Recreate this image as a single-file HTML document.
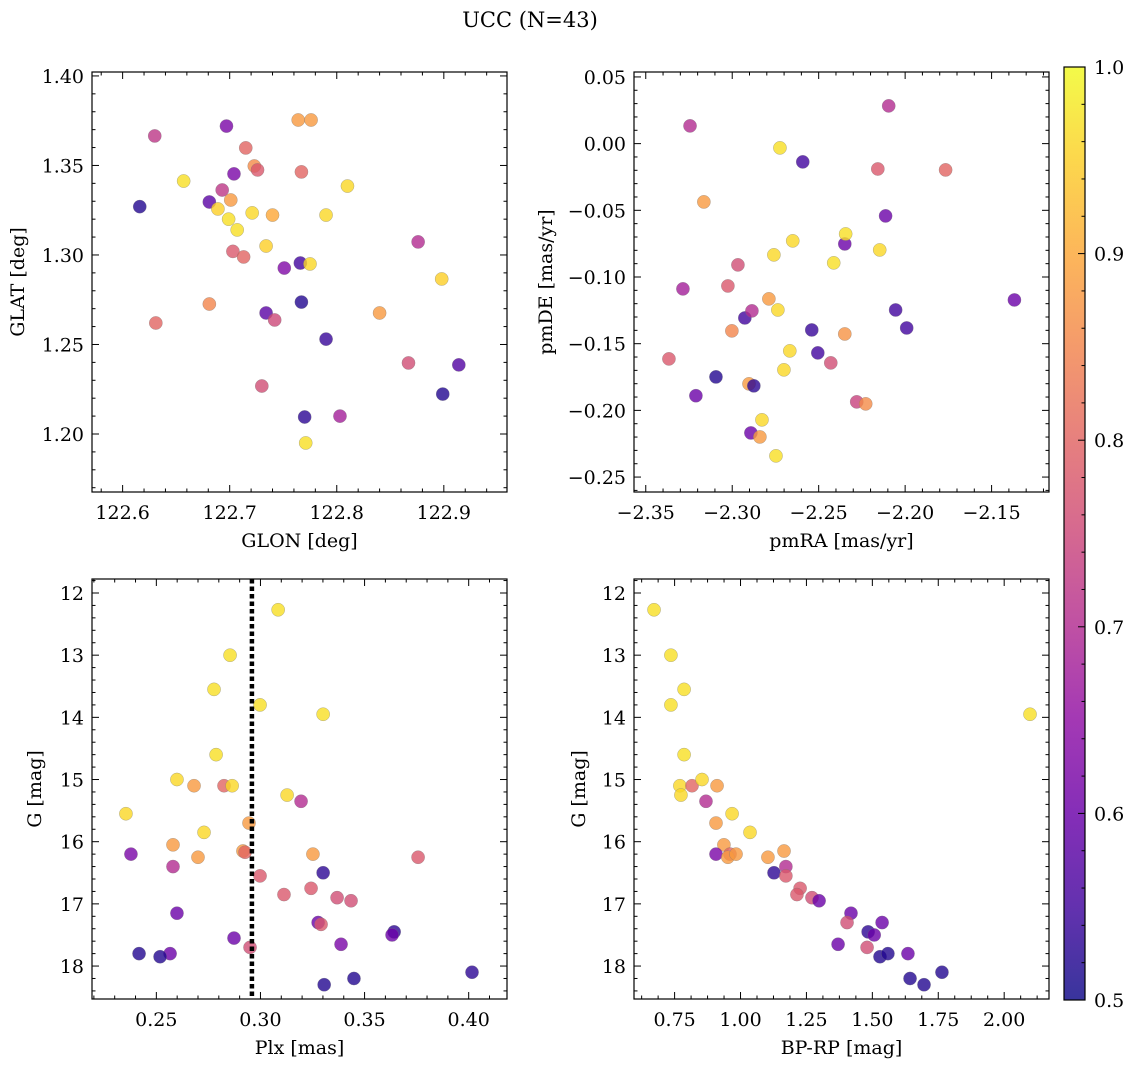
<!DOCTYPE html>
<html><head><meta charset="utf-8"><style>
html,body{margin:0;padding:0;background:#fff;}
svg{display:block;font-family:"DejaVu Serif","Liberation Serif",serif;}
</style></head><body>
<svg id="fig" width="1136" height="1067" xmlns="http://www.w3.org/2000/svg">
<defs>
<linearGradient id="cbg" x1="0" y1="1" x2="0" y2="0">
<stop offset="0" stop-color="#0d0887"/><stop offset="0.1" stop-color="#41049d"/><stop offset="0.2" stop-color="#6a00a8"/><stop offset="0.3" stop-color="#8f0da4"/><stop offset="0.4" stop-color="#b12a90"/><stop offset="0.5" stop-color="#cc4778"/><stop offset="0.6" stop-color="#e16462"/><stop offset="0.7" stop-color="#f2844b"/><stop offset="0.8" stop-color="#fca636"/><stop offset="0.9" stop-color="#fcce25"/><stop offset="1" stop-color="#f0f921"/>
</linearGradient>
</defs>
<text x="530" y="27" font-size="21" text-anchor="middle">UCC (N=43)</text>
</svg>
<script>
// ---- Panel 1: GLON vs GLAT ----
const glon1 = [122.616,122.630,122.631,122.657,122.681,122.689,122.693,122.697,122.699,122.701,122.703,122.704,122.707,122.681,122.713,122.715,122.721,122.734,122.734,122.740,122.742,122.723,122.726,122.730,122.751,122.764,122.776,122.766,122.767,122.767,122.770,122.771,122.775,122.790,122.790,122.803,122.810,122.840,122.867,122.876,122.898,122.899,122.914];
const glat1 = [1.327,1.3665,1.262,1.3413,1.3296,1.3257,1.3363,1.372,1.320,1.3307,1.302,1.3453,1.314,1.2726,1.2989,1.3598,1.3235,1.305,1.2676,1.3223,1.2637,1.3497,1.3475,1.2268,1.2927,1.3754,1.3754,1.2955,1.3464,1.2737,1.2095,1.195,1.295,1.3223,1.253,1.210,1.3385,1.2676,1.2397,1.3073,1.2866,1.2223,1.2386];
const prob1 = [0.52,0.72,0.8,0.97,0.58,0.95,0.72,0.62,0.97,0.88,0.78,0.62,0.97,0.85,0.8,0.8,0.96,0.95,0.58,0.9,0.75,0.86,0.78,0.76,0.63,0.88,0.88,0.55,0.8,0.52,0.53,0.97,0.96,0.96,0.54,0.68,0.96,0.88,0.76,0.7,0.95,0.52,0.57];
// ---- Panel 2: pmRA vs pmDE ----
const pmra2 = [-2.3366,-2.3285,-2.3244,-2.321,-2.3164,-2.3094,-2.3025,-2.3002,-2.2967,-2.2927,-2.2903,-2.2892,-2.2875,-2.2886,-2.284,-2.2828,-2.2788,-2.2759,-2.2736,-2.2747,-2.2724,-2.2701,-2.2667,-2.265,-2.2592,-2.254,-2.2505,-2.243,-2.2413,-2.2349,-2.2344,-2.2349,-2.228,-2.2228,-2.2158,-2.2147,-2.2113,-2.2095,-2.2055,-2.1991,-2.1766,-2.1368];
const pmde2 = [-0.1614,-0.1089,0.0133,-0.189,-0.0437,-0.1749,-0.1067,-0.1404,-0.0909,-0.1307,-0.1801,-0.2169,-0.1816,-0.1254,-0.2199,-0.2071,-0.1164,-0.0834,-0.1247,-0.2341,-0.0032,-0.1696,-0.1554,-0.0729,-0.0137,-0.1397,-0.1569,-0.1644,-0.0894,-0.0752,-0.0677,-0.1427,-0.1936,-0.1951,-0.019,-0.0797,-0.0542,0.0283,-0.1247,-0.1382,-0.0197,-0.1172];
const prob2 = [0.78,0.68,0.7,0.6,0.88,0.52,0.78,0.85,0.76,0.55,0.88,0.6,0.53,0.7,0.88,0.96,0.88,0.96,0.96,0.97,0.97,0.96,0.96,0.96,0.55,0.54,0.55,0.76,0.97,0.6,0.97,0.87,0.74,0.86,0.78,0.96,0.6,0.7,0.55,0.55,0.8,0.6];
// ---- Panel 3: Plx vs G ----
const plx3 = [0.3085,0.2854,0.2777,0.2998,0.3301,0.2787,0.2599,0.2681,0.2825,0.2864,0.3128,0.3195,0.2354,0.2945,0.258,0.2729,0.2378,0.2916,0.2926,0.27,0.3252,0.3757,0.258,0.2998,0.3301,0.3113,0.3243,0.2599,0.3368,0.3435,0.3277,0.3291,0.3642,0.3632,0.2873,0.3387,0.295,0.2417,0.2566,0.2518,0.3449,0.3306,0.4016];
const gmag3 = [12.27,13.0,13.55,13.8,13.95,14.6,15.0,15.1,15.1,15.1,15.25,15.35,15.55,15.7,16.05,15.85,16.2,16.15,16.17,16.25,16.2,16.25,16.4,16.55,16.5,16.85,16.75,17.15,16.9,16.95,17.3,17.33,17.45,17.5,17.55,17.65,17.7,17.8,17.8,17.85,18.2,18.3,18.1];
const prob3 = [0.97,0.97,0.97,0.97,0.97,0.97,0.96,0.88,0.8,0.96,0.96,0.7,0.96,0.88,0.88,0.96,0.62,0.88,0.8,0.88,0.88,0.78,0.7,0.78,0.53,0.78,0.78,0.6,0.76,0.76,0.6,0.78,0.53,0.6,0.6,0.62,0.76,0.52,0.6,0.52,0.52,0.52,0.53];
const plxLine = [0.2959];
// ---- Panel 4: BP-RP vs G ----
const bprp4 = [0.672,0.736,0.736,0.786,0.786,0.77,0.774,0.816,0.854,0.869,0.911,0.907,0.968,0.937,0.907,0.96,0.952,0.983,1.036,1.165,1.104,1.172,1.127,1.172,1.226,1.214,1.271,1.298,1.419,1.404,1.537,1.484,1.507,1.370,1.48,1.529,1.559,1.635,1.643,1.764,1.696,2.098];
const gmag4 = [12.27,13.0,13.8,13.55,14.6,15.1,15.25,15.1,15.0,15.35,15.1,15.7,15.55,16.05,16.2,16.2,16.25,16.2,15.85,16.15,16.25,16.4,16.5,16.55,16.75,16.85,16.9,16.95,17.15,17.3,17.3,17.45,17.5,17.65,17.7,17.85,17.8,17.8,18.2,18.1,18.3,13.95];
const prob4 = [0.97,0.97,0.97,0.97,0.97,0.96,0.96,0.8,0.96,0.7,0.88,0.88,0.96,0.88,0.62,0.8,0.88,0.88,0.96,0.88,0.88,0.7,0.53,0.78,0.78,0.78,0.76,0.6,0.6,0.76,0.6,0.53,0.6,0.6,0.76,0.52,0.52,0.6,0.52,0.52,0.52,0.97];
// tick labels
const ticks1x = [122.6,122.7,122.8,122.9], ticks1y = [1.20,1.25,1.30,1.35,1.40];
const ticks2x = [-2.35,-2.30,-2.25,-2.20,-2.15], ticks2y = [-0.25,-0.20,-0.15,-0.10,-0.05,0.00,0.05];
const ticks3x = [0.25,0.30,0.35,0.40], ticks34y = [12,13,14,15,16,17,18];
const ticks4x = [0.75,1.00,1.25,1.50,1.75,2.00];
const cbTicks = [0.5,0.6,0.7,0.8,0.9,1.0];

const NS = "http://www.w3.org/2000/svg";
const svg = document.getElementById('fig');
function mk(tag, attrs, parent){const e=document.createElementNS(NS,tag);for(const k in attrs)e.setAttribute(k,attrs[k]);(parent||svg).appendChild(e);return e;}
const stops=[[13,8,135],[65,4,157],[106,0,168],[143,13,164],[177,42,144],[204,71,120],[225,100,98],[242,132,75],[252,166,54],[252,206,37],[240,249,33]];
function plasma(t){t=Math.max(0,Math.min(1,t));const f=t*10,i=Math.min(9,Math.floor(f)),u=f-i;const a=stops[i],b=stops[i+1];return 'rgb('+a.map((v,k)=>Math.round(v+(b[k]-v)*u)).join(',')+')';}
function cmap(p){return plasma((p-0.5)/0.5);}
function fmt(v,d){let s=v.toFixed(d);return s.replace('-','\u2212');}
const FS=19;

function panel(o){
  const g=mk('g',{});
  
  
  const X=v=>o.x0+(v-o.xd[0])/(o.xd[1]-o.xd[0])*(o.x1-o.x0);
  const Y=v=>o.y0+(v-o.yd[0])/(o.yd[1]-o.yd[0])*(o.y1-o.y0);
  for(let i=0;i<o.xs.length;i++){
    const c=mk('circle',{cx:X(o.xs[i]),cy:Y(o.ys[i]),r:6.6,fill:cmap(o.cs[i]),'fill-opacity':0.8,stroke:'#777','stroke-width':0.4,'stroke-opacity':0.7},g);
    
    
  }
  if(o.vline){for(const v of o.vline){const l=mk('line',{x1:X(v),x2:X(v),y1:o.y0,y2:o.y1,stroke:'#000','stroke-width':4.5,'stroke-dasharray':'4.5 3'},g);
    
    }}
  const fr=mk('rect',{x:o.x0,y:o.y0,width:o.x1-o.x0,height:o.y1-o.y0,fill:'none',stroke:'#000','stroke-width':1.2},g);
  
  
  const xstep=o.xt[1]-o.xt[0], ystep=o.yt[1]-o.yt[0];
  for(let k=-2;k<o.xt.length+2;k++){
    const v0=o.xt[0]+k*xstep;
    for(let m=0;m<o.xm;m++){
      const v=v0+m*xstep/o.xm; const px=X(v);
      if(px<o.x0-0.5||px>o.x1+0.5)continue;
      const L=m===0?7:3.5;
      mk('line',{x1:px,x2:px,y1:o.y1,y2:o.y1-L,stroke:'#000','stroke-width':1},g);
      mk('line',{x1:px,x2:px,y1:o.y0,y2:o.y0+L,stroke:'#000','stroke-width':1},g);
    }
  }
  for(let k=-2;k<o.yt.length+2;k++){
    const v0=o.yt[0]+k*ystep;
    for(let m=0;m<o.ym;m++){
      const v=v0+m*ystep/o.ym; const py=Y(v);
      if(py<Math.min(o.y0,o.y1)-0.5||py>Math.max(o.y0,o.y1)+0.5)continue;
      const L=m===0?7:3.5;
      mk('line',{x1:o.x0,x2:o.x0+L,y1:py,y2:py,stroke:'#000','stroke-width':1},g);
      mk('line',{x1:o.x1,x2:o.x1-L,y1:py,y2:py,stroke:'#000','stroke-width':1},g);
    }
  }
  for(const v of o.xt){const t=mk('text',{x:X(v),y:o.y1+27,'font-size':FS,'text-anchor':'middle'},g);t.textContent=fmt(v,o.xdp);
    
    }
  for(const v of o.yt){const t=mk('text',{x:o.x0-8,y:Y(v)+7,'font-size':FS,'text-anchor':'end'},g);t.textContent=fmt(v,o.ydp);
    
    }
  const xl=mk('text',{x:(o.x0+o.x1)/2,y:o.y1+55,'font-size':FS,'text-anchor':'middle'},g);xl.textContent=o.xlab;
  
  
  const yl=mk('text',{x:0,y:0,'font-size':FS,'text-anchor':'middle',transform:'translate('+o.ylx+','+(o.y0+o.y1)/2+') rotate(-90)'},g);yl.textContent=o.ylab;
  
  
}
panel({name:'glon-glat-panel',x0:92,x1:507,y0:72,y1:492,xd:[122.5714,122.959],yd:[1.4022,1.1676],xs:glon1,ys:glat1,cs:prob1,xt:ticks1x,yt:ticks1y,xm:5,ym:5,xdp:1,ydp:2,xlab:'GLON [deg]',ylab:'GLAT [deg]',ylx:24});
panel({name:'pm-panel',x0:634,x1:1049,y0:72,y1:492,xd:[-2.3568,-2.1168],yd:[0.0537,-0.2612],xs:pmra2,ys:pmde2,cs:prob2,xt:ticks2x,yt:ticks2y,xm:5,ym:5,xdp:2,ydp:2,xlab:'pmRA [mas/yr]',ylab:'pmDE [mas/yr]',ylx:552});
panel({name:'plx-g-panel',x0:92,x1:507,y0:579,y1:999,xd:[0.2191,0.4184],yd:[11.775,18.53],xs:plx3,ys:gmag3,cs:prob3,xt:ticks3x,yt:ticks34y,xm:5,ym:5,xdp:2,ydp:0,xlab:'Plx [mas]',ylab:'G [mag]',ylx:41,vline:plxLine});
panel({name:'cmd-panel',x0:634,x1:1049,y0:579,y1:999,xd:[0.596,2.170],yd:[11.775,18.53],xs:bprp4,ys:gmag4,cs:prob4,xt:ticks4x,yt:ticks34y,xm:4,ym:5,xdp:2,ydp:0,xlab:'BP-RP [mag]',ylab:'G [mag]',ylx:585});

const cg=mk('g',{});


const CY=v=>1000-(v-0.5)/0.5*933;
mk('rect',{x:1064,y:67,width:21,height:933,fill:'url(#cbg)','fill-opacity':0.82,stroke:'#000','stroke-width':1.2},cg);
for(let v=0.5;v<=1.0001;v+=0.02){const py=CY(v);const maj=Math.abs(v*10-Math.round(v*10))<1e-6;
  mk('line',{x1:1085,x2:1085-(maj?7:3.5),y1:py,y2:py,stroke:'#000','stroke-width':1},cg);}
for(const v of cbTicks){const t=mk('text',{x:1094,y:CY(v)+7,'font-size':FS},cg);t.textContent=v.toFixed(1);
  
  }
</script>
</body></html>
